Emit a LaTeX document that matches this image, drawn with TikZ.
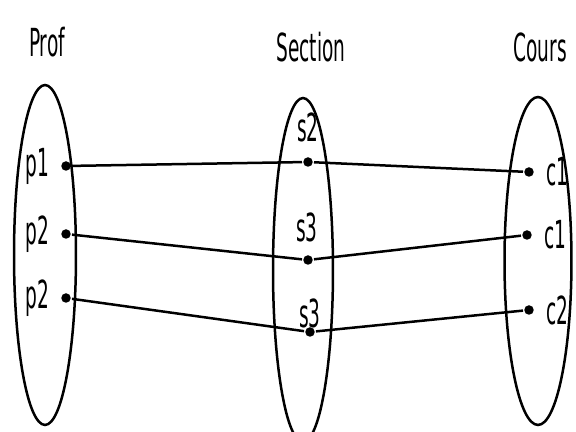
\documentclass[tikz,border=0pt]{standalone}
\usepackage{fontspec}
\setmainfont[FakeStretch=0.48]{DejaVu Sans}
\usetikzlibrary{positioning,shapes.geometric}

\begin{document}
\begin{tikzpicture}[x=0.02cm, y=-0.02cm, line width=0.05cm,
  every node/.style={font=\fontsize{22}{26}\selectfont},
  set/.style={draw, ellipse, inner sep=0pt},
  dot/.style={circle, fill, inner sep=0pt, minimum size=0.19cm}]
\useasboundingbox (0,0) rectangle (576,432);
% the three sets
\node[set, minimum width=1.24cm, minimum height=6.8cm] (prof) at (45,255) {};
\node[set, minimum width=1.2cm, minimum height=6.88cm] (section) at (303,270) {};
\node[set, minimum width=1.34cm, minimum height=6.56cm] (cours) at (538,261) {};
\node at (47,42) {Prof};
\node at (311,47) {Section};
\node at (540,47) {Cours};
% elements
\node[dot] (p1) at (66,166) {};
\node[dot] (p2) at (66,234) {};
\node[dot] (p3) at (66,298) {};
\node[dot] (s1) at (308,162) {};
\node[dot] (s2) at (308,260) {};
\node[dot] (s3) at (310,332) {};
\node[dot] (c1) at (529,172) {};
\node[dot] (c2) at (527,235) {};
\node[dot] (c3) at (529,310) {};
\node[left=0.08cm of p1] {p1};
\node[left=0.08cm of p2] {p2};
\node[left=0.08cm of p3] {p2};
\node at (308,127) {s2};
\node at (307,227) {s3};
\node at (310,313) {s3};
\node[right=0.08cm of c1] {c1};
\node[right=0.08cm of c2] {c1};
\node[right=0.08cm of c3] {c2};
% links
\draw (p1) -- (s1) -- (c1);
\draw (p2) -- (s2) -- (c2);
\draw (p3) -- (s3) -- (c3);
\end{tikzpicture}
\end{document}
